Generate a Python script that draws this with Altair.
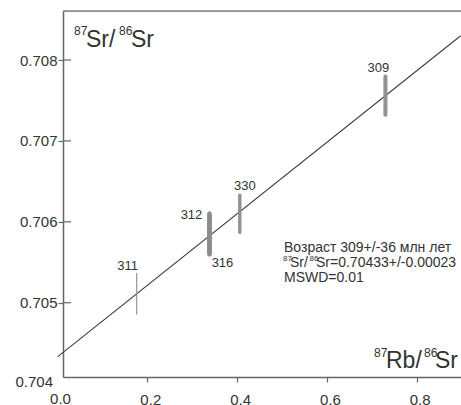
import altair as alt
import pandas as pd

# ---- data ----
samples = ["311", "312", "316", "330", "309"]
rb = [0.1764, 0.3385, 0.3385, 0.4060, 0.7304]
rb_err = [0.0013, 0.0052, 0.0052, 0.0038, 0.0045]
sr = [0.70511, 0.70586, 0.70584, 0.70610, 0.70756]
sr_err = [0.00026, 0.00027, 0.00027, 0.00025, 0.00026]

line_x = [0.0, 0.898]
line_y = [0.70433, 0.70830]

x_ticks = [0.2, 0.4, 0.6, 0.8]
y_ticks = [0.705, 0.706, 0.707, 0.708]

stats_line1 = "Возраст 309+/-36 млн лет"
stats_line2 = "Sr=0.70433+/-0.00023"
stats_line3 = "MSWD=0.01"

# ---- layout ----
W, H = 398, 366
X_DOM = [0.01225, 0.8987]
Y_DOM = [0.704082, 0.708606]
FONT = "Liberation Sans"
AX = "#666666"
TXT = "#333333"

xs = alt.Scale(domain=X_DOM, nice=False, zero=False)
ys = alt.Scale(domain=Y_DOM, nice=False, zero=False)

df = pd.DataFrame({"sample": samples, "rb": rb, "rb_err": rb_err, "sr": sr, "sr_err": sr_err})
df["rb_lo"] = df["rb"] - df["rb_err"]
df["rb_hi"] = df["rb"] + df["rb_err"]
df["sr_lo"] = df["sr"] - df["sr_err"]
df["sr_hi"] = df["sr"] + df["sr_err"]

x_axis = alt.Axis(values=x_ticks, format=".1f", title=None, grid=False,
                  domainColor=AX, domainWidth=1.5, tickColor=AX, tickWidth=1.2,
                  tickSize=5, labelPadding=10, labelOffset=3, labelFontSize=15,
                  labelColor=TXT, labelFont=FONT)
y_axis = alt.Axis(values=y_ticks, format=".3f", title=None, grid=False,
                  domainColor=AX, domainWidth=1.5, tickColor=AX, tickWidth=1.2,
                  tickSize=5, labelPadding=1, labelFontSize=15,
                  labelColor=TXT, labelFont=FONT)

ellipses = alt.Chart(df).mark_rect(color="#8c8c8c", cornerRadius=3, opacity=0.95).encode(
    x=alt.X("rb_lo:Q", scale=xs, axis=x_axis),
    x2="rb_hi:Q",
    y=alt.Y("sr_lo:Q", scale=ys, axis=y_axis),
    y2="sr_hi:Q",
)

reg = alt.Chart(pd.DataFrame({"x": line_x, "y": line_y})).mark_line(
    color="#3a3a3a", strokeWidth=1.1
).encode(x=alt.X("x:Q", scale=xs), y=alt.Y("y:Q", scale=ys))

inner_ticks = alt.Chart(pd.DataFrame({"v": y_ticks})).mark_rule(
    color=AX, strokeWidth=1.2
).encode(x=alt.value(0), x2=alt.value(8), y=alt.Y("v:Q", scale=ys))

top_border = alt.Chart(pd.DataFrame({"a": [0]})).mark_rule(
    color="#444444", strokeWidth=1
).encode(x=alt.value(0), x2=alt.value(W), y=alt.value(0))

offsets = {"311": (-9, -28), "312": (-18, -18), "316": (13, 28), "330": (5, -28), "309": (-7, -28)}
labels = []
for s, xv, yv in zip(samples, rb, sr):
    dx, dy = offsets[s]
    labels.append(
        alt.Chart(pd.DataFrame({"x": [xv], "y": [yv], "t": [s]})).mark_text(
            font=FONT, fontSize=13, color=TXT, align="center", baseline="middle", dx=dx, dy=dy
        ).encode(x=alt.X("x:Q", scale=xs), y=alt.Y("y:Q", scale=ys), text="t:N")
    )


def txt(t, x, y, size, align="left", baseline="alphabetic"):
    return alt.Chart(pd.DataFrame({"t": [t]})).mark_text(
        font=FONT, fontSize=size, color=TXT, align=align, baseline=baseline
    ).encode(x=alt.value(x), y=alt.value(y), text="t:N")


extra_x0 = alt.Chart(pd.DataFrame({"x": [0.0], "t": ["0.0"]})).mark_text(
    font=FONT, fontSize=15, color=TXT, align="center", baseline="top", dx=3
).encode(x=alt.X("x:Q", scale=xs), y=alt.value(H + 15), text="t:N")
extra_y0 = alt.Chart(pd.DataFrame({"y": [0.704], "t": ["0.704"]})).mark_text(
    font=FONT, fontSize=15, color=TXT, align="right", baseline="middle", dy=-1.5
).encode(x=alt.value(-10), y=alt.Y("y:Q", scale=ys), text="t:N")

titles = [
    # y title: 87Sr/86Sr
    txt("87", 11, 24, 12), txt("Sr/", 23, 36, 23), txt("86", 56, 24, 12), txt("Sr", 68, 36, 23),
    # x title: 87Rb/86Sr
    txt("87", 311, 346, 12), txt("Rb/", 323, 356.5, 23), txt("86", 361, 346, 12), txt("Sr", 372, 356.5, 23),
    # stats
    txt(stats_line1, 221, 241, 14),
    txt("87", 220, 250, 8), txt("Sr/", 227, 256, 14), txt("86", 246.5, 250, 8), txt(stats_line2, 253, 256, 14),
    txt(stats_line3, 221, 271, 14),
]

chart = alt.layer(
    top_border, inner_ticks, reg, ellipses, *labels, extra_x0, extra_y0, *titles
).properties(
    width=W, height=H,
    autosize=alt.AutoSizeParams(type="none"),
    padding={"left": 63, "top": 11, "right": 0, "bottom": 28},
).configure_view(stroke=None).configure(background="white")

chart.save("out.html", embed_options={"renderer": "svg", "actions": False})
